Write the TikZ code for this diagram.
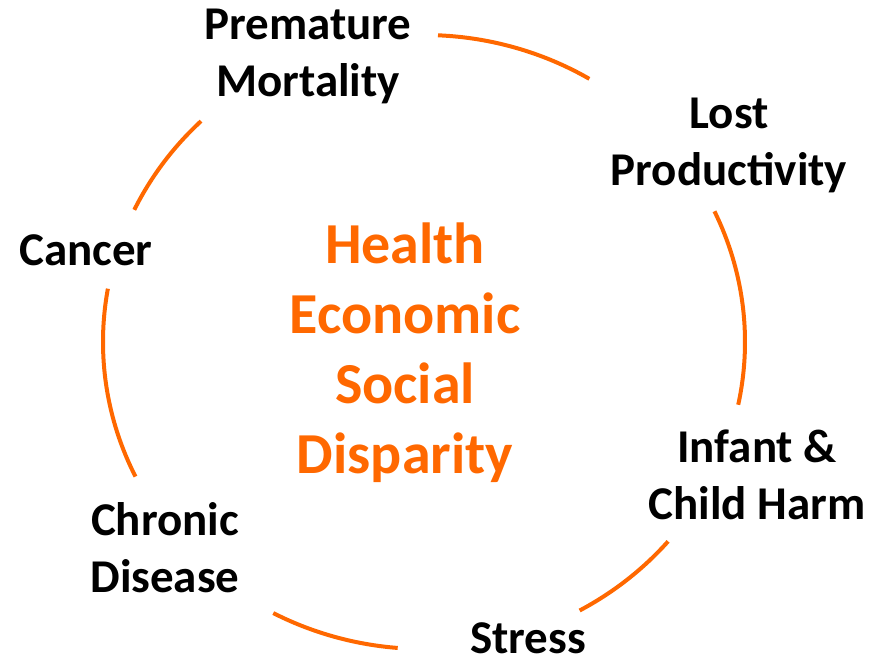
\documentclass[tikz,border=0pt]{standalone}
\usepackage{fontspec}
\setmainfont{Carlito}
\definecolor{cycleorange}{RGB}{255,104,0}
\tikzset{
  item/.style={font=\fontsize{47}{57}\selectfont\bfseries, align=center, text=black},
  core/.style={font=\fontsize{58}{70}\selectfont\bfseries, align=center, text=cycleorange},
  ring/.style={draw=cycleorange, line width=4pt}
}

\begin{document}
\begin{tikzpicture}[x=1pt,y=1pt]
\useasboundingbox (0,0) rectangle (882,665);
% Centre of the ring
\coordinate (o) at (424,323);
% Ring pieces between the labels
\foreach \s/\e in {87.5/59, 25.2/-11.8, -40.5/-61, 242/265.3, 170/206, 154.5/134}
  \draw[ring] ([shift={(\s:321 and 307)}]o) arc[start angle=\s, end angle=\e, x radius=321, y radius=307];
% Labels round the ring
\node[item] (mort)   at (308,609) {Premature\\Mortality};
\node[item] (prod)   at (729,520) {Lost\\Productivity};
\node[item] (harm)   at (757,190) {Infant \&\\Child Harm};
\node[item, anchor=base, inner sep=0pt] (stress) at (528,12) {Stress};
\node[item] (chron)  at (165,117) {Chronic\\Disease};
\node[item] (cancer) at (86,415)  {Cancer};
% Middle text
\node[core] (disp) at (405,312) {Health\\Economic\\Social\\Disparity};
\end{tikzpicture}
\end{document}
